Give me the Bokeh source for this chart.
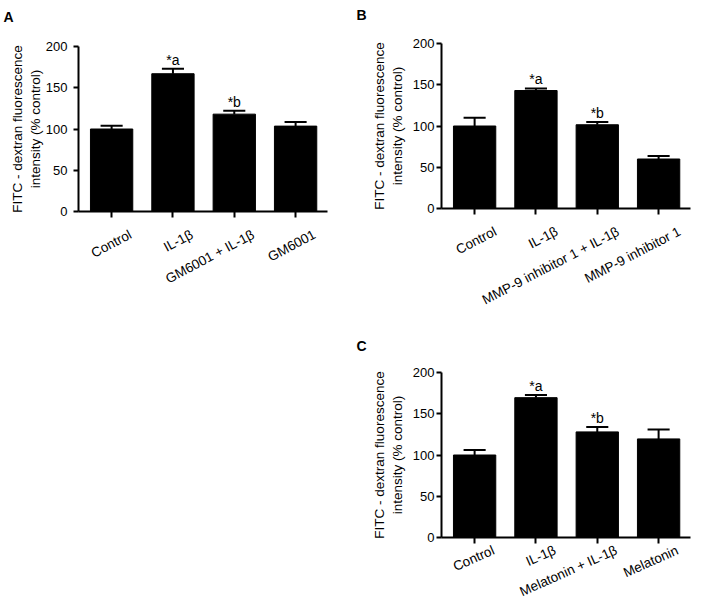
from bokeh.plotting import figure
from bokeh.layouts import column, row
from bokeh.models import (Range1d, FixedTicker, Spacer, ColumnDataSource,
                          CustomJSTickFormatter, LinearAxis)
from bokeh.embed import file_html
from bokeh.resources import INLINE
from bokeh.core.properties import value

# ---------------- data ----------------
y_ticks = [0, 50, 100, 150, 200]
y_title = "FITC - dextran fluorescence\nintensity (% control)"

cats_a = ["Control", "IL-1β", "GM6001 + IL-1β", "GM6001"]
mean_a = [100, 167, 118, 103.5]
sem_a = [4, 6, 4, 5]
mark_a = ["", "*a", "*b", ""]

cats_b = ["Control", "IL-1β", "MMP-9 inhibitor 1 + IL-1β", "MMP-9 inhibitor 1"]
mean_b = [100, 143, 101.5, 60]
sem_b = [10, 2.5, 3.5, 3.5]
mark_b = ["", "*a", "*b", ""]

cats_c = ["Control", "IL-1β", "Melatonin + IL-1β", "Melatonin"]
mean_c = [100, 169.5, 128, 119.5]
sem_c = [6, 3.2, 6, 11.3]
mark_c = ["", "*a", "*b", ""]

FONT = "Liberation Sans"
BAR_W = 0.69
CAP_W = 0.36
MARK_GAP = 11
X0, X1 = -0.54, 3.52
FRAME_W = 249


def panel(letter, cats, means, sems, marks, width, height, bl, br, bt, bb,
          tick_standoff, title_standoff, letter_dx, letter_standoff,
          letter_valign, lab_angle, lab_size, lab_dx, lab_standoff):
    p = figure(width=width, height=height,
               x_range=Range1d(X0, X1), y_range=Range1d(0, 200),
               output_backend="svg", toolbar_location=None,
               min_border_left=bl, min_border_right=br,
               min_border_top=bt, min_border_bottom=bb)
    p.outline_line_color = None
    p.grid.visible = False
    p.background_fill_color = "white"
    p.border_fill_color = "white"

    p.title.text = letter
    p.title.align = "left"
    p.title.vertical_align = letter_valign
    p.title.offset = letter_dx
    p.title.standoff = letter_standoff
    p.title.text_font = FONT
    p.title.text_font_size = "14px"
    p.title.text_font_style = "bold"
    p.title.text_color = "black"

    xs = list(range(len(cats)))
    tops = [m + s for m, s in zip(means, sems)]
    src = ColumnDataSource(dict(
        x=xs, mean=means, top=tops,
        cl=[x - CAP_W / 2 for x in xs], cr=[x + CAP_W / 2 for x in xs]))

    p.vbar(x="x", top="mean", bottom=0, width=BAR_W, source=src,
           fill_color="black", line_color="black")
    p.segment(x0="x", y0="mean", x1="x", y1="top", source=src,
              line_color="black", line_width=2)
    p.segment(x0="cl", y0="top", x1="cr", y1="top", source=src,
              line_color="black", line_width=2)

    mk = [(x, t + MARK_GAP, m) for x, t, m in zip(xs, tops, marks) if m]
    msrc = ColumnDataSource(dict(x=[a[0] for a in mk], y=[a[1] for a in mk],
                                 t=[a[2] for a in mk]))
    p.text(x="x", y="y", text="t", source=msrc, text_align="center",
           text_baseline="alphabetic", text_font=value(FONT),
           text_font_size="14px", text_color="black")

    # y axis
    ya = p.yaxis[0]
    ya.ticker = FixedTicker(ticks=y_ticks)
    ya.axis_label = y_title
    ya.axis_label_text_font = FONT
    ya.axis_label_text_font_style = "normal"
    ya.axis_label_text_font_size = "13.5px"
    ya.axis_label_text_color = "black"
    ya.axis_label_standoff = title_standoff
    ya.major_label_text_font = FONT
    ya.major_label_text_font_size = "13px"
    ya.major_label_text_color = "black"
    ya.major_label_standoff = tick_standoff
    ya.major_tick_out = 5
    ya.major_tick_in = 0
    ya.minor_tick_out = 0
    ya.minor_tick_in = 0
    ya.axis_line_width = 2
    ya.major_tick_line_width = 2
    ya.axis_line_color = "black"
    ya.major_tick_line_color = "black"

    # x axis: tick marks at the bar centres
    xa = p.xaxis[0]
    xa.ticker = FixedTicker(ticks=xs)
    xa.major_label_text_color = None
    xa.major_label_text_font_size = "0px"
    xa.major_label_standoff = 0
    xa.major_tick_out = 6
    xa.major_tick_in = 0
    xa.minor_tick_out = 0
    xa.minor_tick_in = 0
    xa.axis_line_width = 2
    xa.major_tick_line_width = 2
    xa.axis_line_color = "black"
    xa.major_tick_line_color = "black"

    # second axis carrying the rotated category labels, shifted right
    shift = lab_dx * (X1 - X0) / FRAME_W
    p.extra_x_ranges = {"lab": Range1d(X0 - shift, X1 - shift)}
    la = LinearAxis(x_range_name="lab", ticker=FixedTicker(ticks=xs),
                    formatter=CustomJSTickFormatter(
                        args=dict(labels=cats),
                        code="return labels[Math.round(tick)]"))
    la.major_label_orientation = lab_angle
    la.major_label_standoff = lab_standoff
    la.major_label_text_font = FONT
    la.major_label_text_font_size = lab_size
    la.major_label_text_color = "black"
    la.axis_line_color = None
    la.major_tick_line_color = None
    la.minor_tick_line_color = None
    la.major_tick_out = 0
    la.major_tick_in = 0
    la.minor_tick_out = 0
    la.minor_tick_in = 0
    p.add_layout(la, "below")
    return p


pa = panel("A\n", cats_a, mean_a, sem_a, mark_a, 350, 321, 78, 23, 46, 110,
           6, 0, -75, 8, "top", 0.49, "13.5px", 19, 16)
pb = panel("B\n", cats_b, mean_b, sem_b, mark_b, 352, 321, 91, 12, 43, 113,
           2, 5, -85, 5, "top", 0.48, "13.5px", 21, 16)
pc = panel("C", cats_c, mean_c, sem_c, mark_c, 352, 288, 91, 12, 51, 72,
           2, 5, -85, 33, "top", 0.42, "13.5px", 19, 6)

layout = column(row(pa, column(pb)),
                row(Spacer(width=350, height=288), pc))

open("out.html", "w").write(file_html(layout, INLINE))
